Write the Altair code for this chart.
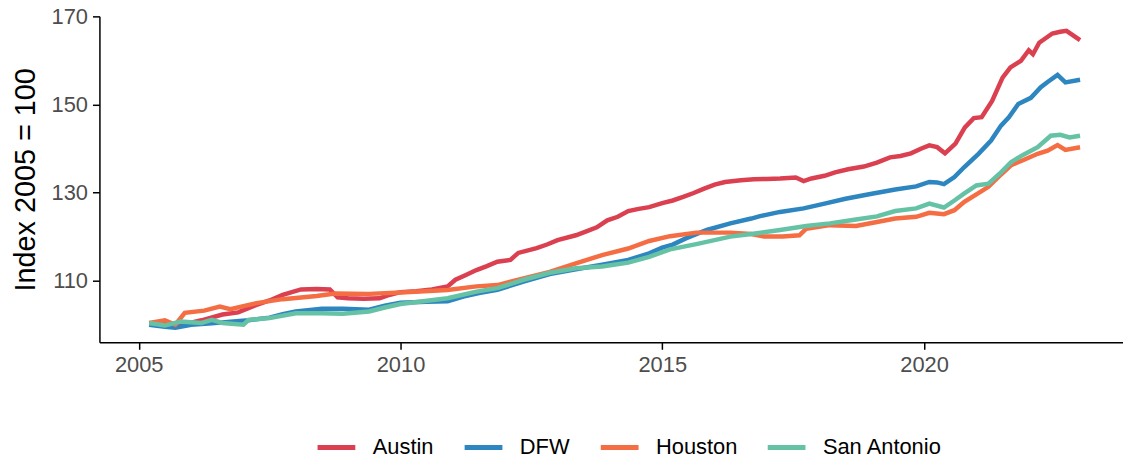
import altair as alt
import pandas as pd

metros = ["Austin", "DFW", "Houston", "San Antonio"]
colors = ["#DB4050", "#2E86C1", "#F46D43", "#66C2A5"]

austin_t = [2005.2, 2005.45, 2005.7, 2005.9, 2006.2, 2006.6, 2006.9, 2007.25, 2007.5, 2007.75,
            2008.1, 2008.4, 2008.65, 2008.8, 2009.0, 2009.3, 2009.6, 2009.8, 2010.0, 2010.3,
            2010.6, 2010.9, 2011.05, 2011.25, 2011.45, 2011.65, 2011.85, 2012.1, 2012.25, 2012.6,
            2012.8, 2013.0, 2013.35, 2013.55, 2013.75, 2013.95, 2014.15, 2014.35, 2014.55, 2014.75,
            2015.0, 2015.2, 2015.4, 2015.6, 2015.8, 2016.0, 2016.2, 2016.5, 2016.75, 2017.0,
            2017.25, 2017.55, 2017.7, 2017.85, 2018.1, 2018.3, 2018.55, 2018.85, 2019.1, 2019.35,
            2019.55, 2019.75, 2019.95, 2020.1, 2020.25, 2020.4, 2020.6, 2020.78, 2020.95, 2021.1,
            2021.3, 2021.5, 2021.65, 2021.85, 2022.0, 2022.08, 2022.2, 2022.45, 2022.6, 2022.72,
            2022.98]
austin_v = [100.0, 100.3, 99.5, 100.2, 101.0, 102.3, 102.8, 104.5, 105.5, 106.8,
            108.0, 108.1, 108.0, 106.2, 106.0, 105.9, 106.0, 106.8, 107.4, 107.6,
            108.0, 108.7, 110.2, 111.3, 112.4, 113.3, 114.3, 114.7, 116.3, 117.4,
            118.2, 119.2, 120.3, 121.2, 122.1, 123.7, 124.5, 125.8, 126.3, 126.7,
            127.6, 128.2, 129.0, 129.9, 130.9, 131.8, 132.4, 132.8, 133.0, 133.1,
            133.2, 133.4, 132.6, 133.2, 133.8, 134.6, 135.3, 135.9, 136.8, 138.0,
            138.3, 138.9, 140.0, 140.7, 140.3, 138.9, 141.1, 144.8, 146.9, 147.1,
            150.8, 156.1, 158.4, 159.9, 162.3, 161.4, 164.0, 166.1, 166.5, 166.7,
            164.6]

dfw_t = [2005.2, 2005.5, 2005.7, 2006.0, 2006.4, 2006.75, 2007.1, 2007.5, 2007.75, 2008.0,
         2008.5, 2008.9, 2009.4, 2009.7, 2010.0, 2010.5, 2010.9, 2011.2, 2011.5, 2011.85,
         2012.35, 2012.85, 2013.35, 2013.85, 2014.35, 2014.75, 2015.0, 2015.2, 2015.45, 2015.85,
         2016.3, 2016.7, 2016.85, 2017.25, 2017.7, 2018.1, 2018.5, 2018.95, 2019.45, 2019.85,
         2020.1, 2020.25, 2020.38, 2020.58, 2020.77, 2021.04, 2021.28, 2021.47, 2021.62, 2021.8,
         2022.04, 2022.23, 2022.36, 2022.55, 2022.7, 2022.98]
dfw_v = [100.0, 99.5, 99.3, 100.0, 100.3, 100.7, 101.0, 101.6, 102.4, 103.0,
         103.6, 103.6, 103.4, 104.3, 105.0, 105.2, 105.3, 106.4, 107.2, 107.9,
         109.8, 111.5, 112.6, 113.6, 114.7, 116.2, 117.5, 118.2, 119.6, 121.5,
         123.0, 124.1, 124.6, 125.6, 126.4, 127.5, 128.6, 129.6, 130.7, 131.4,
         132.4, 132.3, 131.9, 133.5, 135.8, 138.8, 141.8, 145.2, 147.1, 150.1,
         151.5, 153.9, 155.1, 156.7, 155.0, 155.6]

houston_t = [2005.2, 2005.5, 2005.7, 2005.88, 2006.25, 2006.55, 2006.75, 2007.0, 2007.25, 2007.75,
             2008.4, 2008.75, 2009.4, 2010.0, 2010.9, 2011.45, 2011.85, 2012.35, 2012.85, 2013.35,
             2013.85, 2014.35, 2014.75, 2015.15, 2015.65, 2016.3, 2016.7, 2016.95, 2017.3, 2017.62,
             2017.75, 2018.2, 2018.7, 2019.1, 2019.45, 2019.85, 2020.1, 2020.38, 2020.58, 2020.77,
             2021.0, 2021.23, 2021.47, 2021.66, 2021.9, 2022.17, 2022.36, 2022.55, 2022.7, 2022.98]
houston_v = [100.4, 101.0, 100.0, 102.7, 103.2, 104.1, 103.5, 104.2, 104.9, 105.8,
             106.5, 107.1, 107.0, 107.3, 107.9, 108.7, 109.0, 110.5, 112.0, 113.9,
             115.8, 117.3, 119.0, 120.1, 120.9, 120.9, 120.6, 120.0, 120.0, 120.3,
             121.8, 122.6, 122.4, 123.3, 124.1, 124.5, 125.4, 125.1, 126.0, 127.9,
             129.6, 131.3, 134.1, 136.2, 137.4, 138.8, 139.5, 140.8, 139.7, 140.3]

sa_t = [2005.2, 2005.5, 2005.8, 2006.2, 2006.4, 2006.6, 2007.0, 2007.1, 2007.5, 2008.0,
        2008.5, 2008.9, 2009.4, 2009.7, 2010.0, 2010.9, 2011.45, 2011.85, 2012.35, 2012.85,
        2013.35, 2013.85, 2014.35, 2014.75, 2015.15, 2015.65, 2016.3, 2016.7, 2017.25, 2017.75,
        2018.2, 2018.7, 2019.1, 2019.45, 2019.85, 2020.1, 2020.38, 2020.58, 2020.77, 2021.0,
        2021.23, 2021.47, 2021.66, 2021.9, 2022.17, 2022.42, 2022.6, 2022.78, 2022.98]
sa_v = [100.4, 99.8, 100.7, 100.4, 101.1, 100.4, 100.0, 101.1, 101.5, 102.6,
        102.6, 102.5, 103.0, 103.9, 104.7, 106.0, 107.5, 108.3, 110.2, 111.8,
        112.8, 113.2, 114.1, 115.4, 117.1, 118.3, 120.0, 120.6, 121.5, 122.4,
        123.0, 123.9, 124.6, 125.8, 126.4, 127.5, 126.6, 128.2, 129.8, 131.6,
        132.0, 134.6, 136.9, 138.6, 140.3, 142.9, 143.1, 142.5, 142.9]

x_ticks = [2005, 2010, 2015, 2020]
y_ticks = [110, 130, 150, 170]

rows = []
for name, ts, vs in [("Austin", austin_t, austin_v), ("DFW", dfw_t, dfw_v),
                     ("Houston", houston_t, houston_v), ("San Antonio", sa_t, sa_v)]:
    for t, v in zip(ts, vs):
        rows.append({"year": t, "index": v, "metro": name})
df = pd.DataFrame(rows)

FONT = "Liberation Sans"

chart = alt.Chart(df).mark_line(strokeWidth=4.5).encode(
    x=alt.X("year:Q",
            scale=alt.Scale(domain=[2004.25, 2023.8], nice=False, zero=False),
            axis=alt.Axis(values=x_ticks, format="d", title=None, grid=False)),
    y=alt.Y("index:Q",
            scale=alt.Scale(domain=[96, 170], nice=False, zero=False),
            axis=alt.Axis(values=y_ticks, title="Index 2005 = 100", grid=False,
                          titleFontSize=29, titleFontWeight="normal", titleColor="black",
                          titlePadding=11)),
    color=alt.Color("metro:N",
                    scale=alt.Scale(domain=metros, range=colors),
                    legend=alt.Legend(title=None, orient="none", legendX=217, legendY=412,
                                      direction="horizontal", symbolType="stroke",
                                      symbolSize=1444, symbolStrokeWidth=5,
                                      labelFontSize=22, labelColor="black", labelFont=FONT,
                                      labelOffset=15, columnPadding=20)),
).properties(
    width=1030, height=328,
    background="white",
    autosize=alt.AutoSizeParams(type="none"),
    padding={"left": 92, "top": 7, "right": 0, "bottom": 116},
).configure_view(stroke=None).configure_axis(
    domainColor="black", domainWidth=1.5, tickColor="black", tickWidth=1.5, tickSize=7,
    labelFontSize=22, labelColor="#4d4d4d", labelFont=FONT, titleFont=FONT, labelPadding=5,
)

chart.save("out.html", embed_options={"renderer": "svg", "actions": False})
